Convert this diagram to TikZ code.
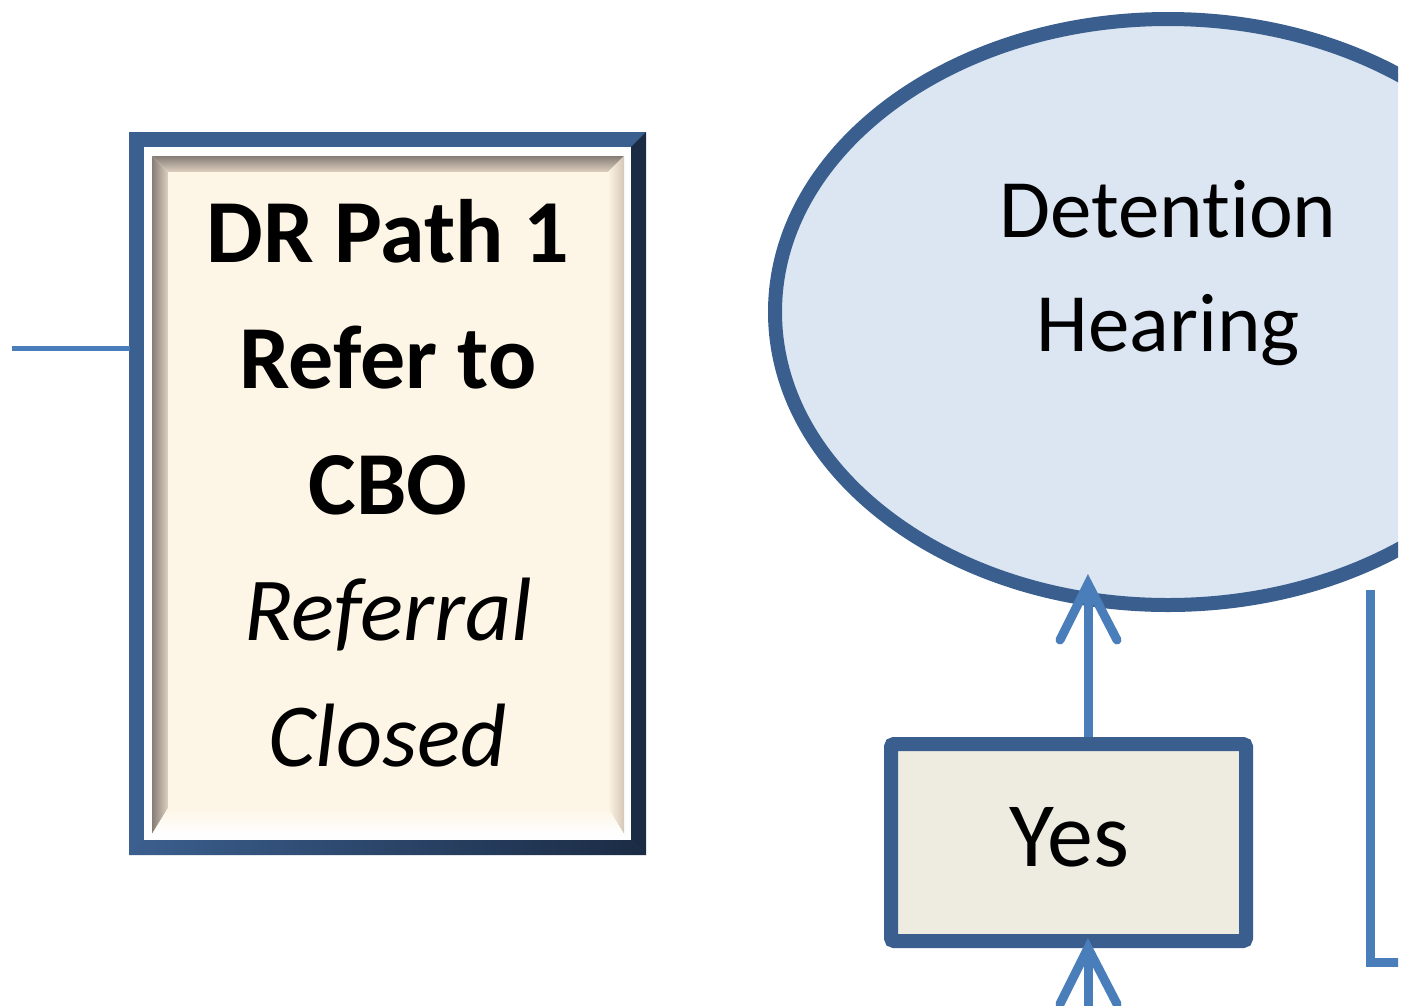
\documentclass[tikz,border=0pt]{standalone}
\usepackage{fontspec}
\setmainfont{Carlito}[Ligatures=NoCommon]
\usetikzlibrary{calc,shapes.geometric}
\definecolor{frameblue}{HTML}{3B5F8E}
\definecolor{framedark}{HTML}{1B2B44}
\definecolor{ellfill}{HTML}{DCE6F2}
\definecolor{ellborder}{HTML}{3A5F8E}
\definecolor{connblue}{HTML}{4A7EBB}
\definecolor{yesfill}{HTML}{EEECE1}
\definecolor{cream}{HTML}{FDF5E6}
\definecolor{bevdark}{HTML}{867D75}
\definecolor{bevbeige}{HTML}{D6C7B7}
\tikzset{
  conn/.style={draw=connblue, line width=9},
  thinconn/.style={draw=connblue, line width=5},
  chev/.style={draw=connblue, line width=9, line cap=round, line join=miter},
  bigtext/.style={font=\fontsize{90}{126}\selectfont, align=center, inner sep=0},
}
\begin{document}
\begin{tikzpicture}[x=1pt,y=-1pt]
\useasboundingbox (0,0) rectangle (1410,1005);
\fill[white] (0,0) rectangle (1410,1005);

% ---------- left beveled box ----------
\node[minimum width=516, minimum height=722, inner sep=0] (dr) at (388,494) {};
\fill[frameblue] (129,132) rectangle (646,855);
\fill[framedark] (646,132) -- (646,855) -- (631,840) -- (631,147) -- cycle;
\shade[left color=frameblue, right color=framedark] (129,855) -- (646,855) -- (631,840) -- (144,840) -- cycle;
\fill[white!96!cream] (144,147) rectangle (631,840);
\shade[top color=bevdark, bottom color=bevbeige!80!cream] (152,156) -- (624,156) -- (608,172) -- (168,172) -- cycle;
\shade[left color=bevdark, right color=bevbeige!80!cream] (152,156) -- (168,172) -- (168,808) -- (152,834) -- cycle;
\shade[left color=cream, right color=bevbeige] (624,156) -- (624,834) -- (608,808) -- (608,172) -- cycle;
\shade[top color=cream, bottom color=white] (152,834) -- (624,834) -- (608,808) -- (168,808) -- cycle;
\fill[cream] (168,172) rectangle (608,808);
\node[bigtext, anchor=base] (drtext) at (388,766)
  {\textbf{DR Path 1}\\ \textbf{Refer to}\\ \textbf{CBO}\\ \textit{Referral}\\ \textit{Closed}};

% ---------- connector into left box ----------
\coordinate (lstart) at (12,348);
\draw[thinconn] (lstart) -- (dr.west |- lstart);

% ---------- ellipse and right connector (cropped) ----------
\begin{scope}
\clip (0,0) rectangle (1398,1005);
\node[draw=ellborder, fill=ellfill, line width=14, ellipse, inner sep=0, outer sep=0,
      minimum width=786, minimum height=586] (ell) at (1168,312) {};
\coordinate (rtop) at (1370,590);
\coordinate (rend) at (1410,962);
\draw[conn] (rtop) |- (rend);
\end{scope}
\node[font=\fontsize{83}{114}\selectfont, align=center, inner sep=0, anchor=base] (dettext) at (1168,351) {Detention\\Hearing};

% ---------- Yes box ----------
\node[draw=ellborder, fill=yesfill, line width=14, rounded corners=3,
      minimum width=355, minimum height=197, inner sep=0] (yes) at (1068.5,842.5) {};
\node[font=\fontsize{92}{100}\selectfont, inner sep=0, anchor=base] (yestext) at (1069,866) {Yes};

% ---------- arrows ----------
\coordinate (tip1) at (1088,584);
\draw[conn] (yes.north -| tip1) -- (tip1);
\draw[chev] ($(tip1)+(-28,56)$) -- (tip1) -- ($(tip1)+(29,56)$);
\coordinate (tip2) at (1088,948);
\coordinate (below) at (1088,1040);
\draw[conn] (below) -- (tip2);
\draw[chev] ($(tip2)+(-28,56)$) -- (tip2) -- ($(tip2)+(29,56)$);
\end{tikzpicture}
\end{document}
